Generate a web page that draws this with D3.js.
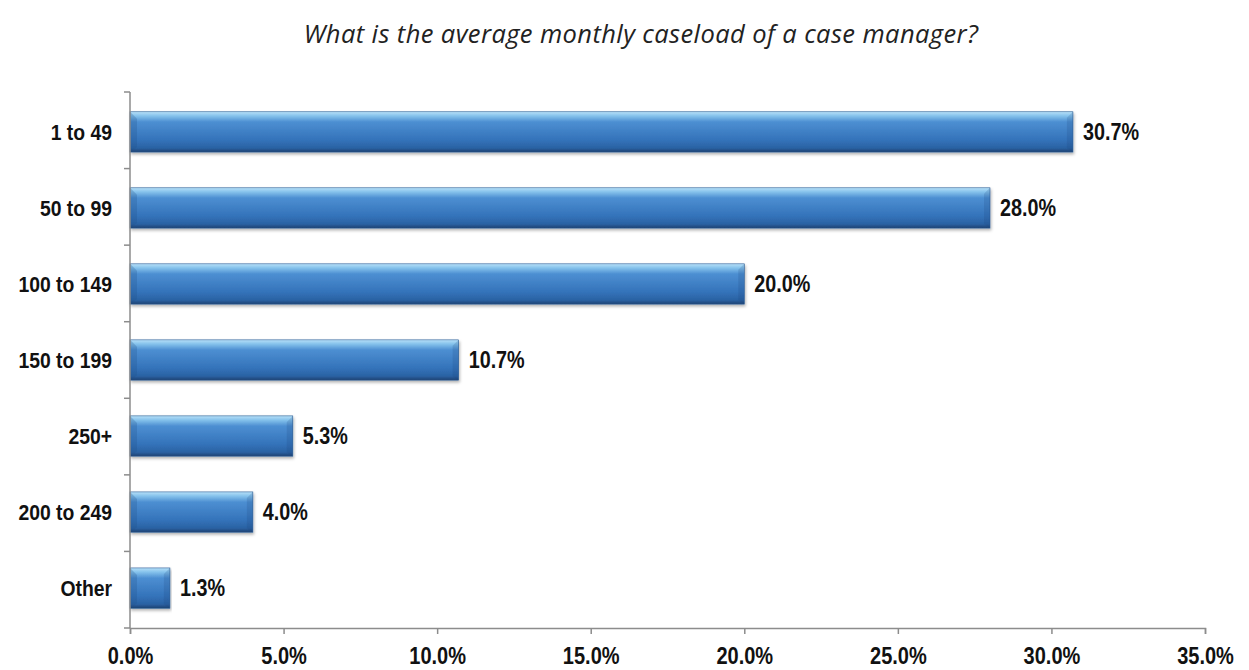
<!DOCTYPE html>
<html>
<head>
<meta charset="utf-8">
<script src="https://cdn.jsdelivr.net/npm/d3@7"></script>
<style>
  body { margin: 0; background: #fff; }
  .lbl { font-family: "Liberation Sans", Arial, sans-serif; font-weight: bold; fill: #111; }
</style>
</head>
<body>
<div id="chart"></div>
<script>
// chart data
var categories = ["1 to 49", "50 to 99", "100 to 149", "150 to 199", "250+", "200 to 249", "Other"];
var values = [30.7, 28.0, 20.0, 10.7, 5.3, 4.0, 1.3];
var tickValues = [0, 5, 10, 15, 20, 25, 30, 35];
var title = "What is the average monthly caseload of a case manager?";

var W = 1249, H = 670;
var margin = {top: 92, right: 44, bottom: 42, left: 130};

var svg = d3.select("#chart").append("svg")
    .attr("width", W)
    .attr("height", H);

var defs = svg.append("defs");
var grad = defs.append("linearGradient")
    .attr("id", "barGrad")
    .attr("x1", 0).attr("y1", 0).attr("x2", 0).attr("y2", 1);
[[0, "#b8e0f8"], [0.1, "#86c3ec"], [0.25, "#4d8fd2"], [0.7, "#3473ba"], [0.9, "#2a62a3"], [1, "#1d4272"]]
  .forEach(function(s) { grad.append("stop").attr("offset", s[0]).attr("stop-color", s[1]); });

var shadow = defs.append("filter").attr("id", "shadow")
    .attr("x", "-5%").attr("y", "-20%").attr("width", "110%").attr("height", "160%");
shadow.append("feDropShadow").attr("dx", 1).attr("dy", 2).attr("stdDeviation", 1.5)
    .attr("flood-color", "#000").attr("flood-opacity", 0.3);

var x = d3.scaleLinear().domain([0, 35]).range([margin.left, W - margin.right]);
var y = d3.scaleBand().domain(categories)
    .range([margin.top, H - margin.bottom])
    .paddingInner(0.47).paddingOuter(0.26);

// title
svg.append("text")
    .attr("x", 641).attr("y", 43)
    .attr("text-anchor", "middle")
    .style("font-family", "'Open Sans', 'DejaVu Sans', sans-serif")
    .style("font-style", "italic")
    .style("font-size", "25.5px")
    .style("letter-spacing", "0.4px")
    .style("fill", "#222")
    .text(title);

// bars
var bars = svg.append("g").selectAll("g")
    .data(categories)
  .enter().append("g");

bars.append("rect")
    .attr("x", x(0))
    .attr("y", function(d) { return y(d); })
    .attr("width", function(d, i) { return x(values[i]) - x(0); })
    .attr("height", y.bandwidth())
    .attr("fill", "url(#barGrad)")
    .attr("stroke", "#2a5d96")
    .attr("stroke-width", 0.6)
    .attr("filter", "url(#shadow)");

// bevel edges at both ends
bars.append("path")
    .attr("d", function(d) {
      var y0 = y(d), h = y.bandwidth(), x0 = x(0);
      return "M" + x0 + "," + y0 + "L" + (x0 + 7) + "," + (y0 + 7) + "L" + (x0 + 7) + "," + (y0 + h - 5) + "L" + x0 + "," + (y0 + h) + "Z";
    })
    .attr("fill", "#1f4f88")
    .attr("opacity", 0.25);
bars.append("path")
    .attr("d", function(d, i) {
      var y0 = y(d), h = y.bandwidth(), x1 = x(values[i]);
      return "M" + x1 + "," + y0 + "L" + (x1 - 6) + "," + (y0 + 6) + "L" + (x1 - 6) + "," + (y0 + h - 4) + "L" + x1 + "," + (y0 + h) + "Z";
    })
    .attr("fill", "#1a4378")
    .attr("opacity", 0.18);

// value labels
bars.append("text")
    .attr("class", "lbl")
    .attr("transform", function(d, i) {
      return "translate(" + (x(values[i]) + 10) + "," + (y(d) + y.bandwidth() / 2) + ") scale(0.86,1)";
    })
    .attr("dy", "0.36em")
    .style("font-size", "23px")
    .text(function(d, i) { return values[i].toFixed(1) + "%"; });

// y axis
var yAxis = svg.append("g")
    .attr("transform", "translate(" + x(0) + ",0)");
yAxis.append("line")
    .attr("x1", 0).attr("x2", 0)
    .attr("y1", margin.top).attr("y2", H - margin.bottom)
    .attr("stroke", "#8c8c8c").attr("stroke-width", 1.5);
var yTicks = d3.range(categories.length + 1).map(function(i) {
  return margin.top + i * (H - margin.bottom - margin.top) / categories.length;
});
yAxis.selectAll(".yt").data(yTicks).enter().append("line")
    .attr("x1", -6).attr("x2", 0)
    .attr("y1", function(d) { return d; }).attr("y2", function(d) { return d; })
    .attr("stroke", "#8c8c8c").attr("stroke-width", 1.5);
yAxis.selectAll(".cat").data(categories).enter().append("text")
    .attr("class", "lbl")
    .attr("transform", function(d) {
      return "translate(-18," + (y(d) + y.bandwidth() / 2) + ") scale(0.9,1)";
    })
    .attr("dy", "0.36em")
    .attr("text-anchor", "end")
    .style("font-size", "21.5px")
    .text(function(d) { return d; });

// x axis
var xAxis = svg.append("g")
    .attr("transform", "translate(0," + (H - margin.bottom) + ")")
    .call(d3.axisBottom(x).tickValues(tickValues).tickSizeOuter(0).tickSize(6).tickPadding(14)
      .tickFormat(function(d) { return d.toFixed(1) + "%"; }));
xAxis.select(".domain").attr("stroke", "#8c8c8c").attr("stroke-width", 1.5);
xAxis.selectAll(".tick line").attr("stroke", "#8c8c8c").attr("stroke-width", 1.5);
xAxis.selectAll(".tick text")
    .attr("class", "lbl")
    .attr("transform", "scale(0.87,1)")
    .style("font-size", "23px");
</script>
</body>
</html>
